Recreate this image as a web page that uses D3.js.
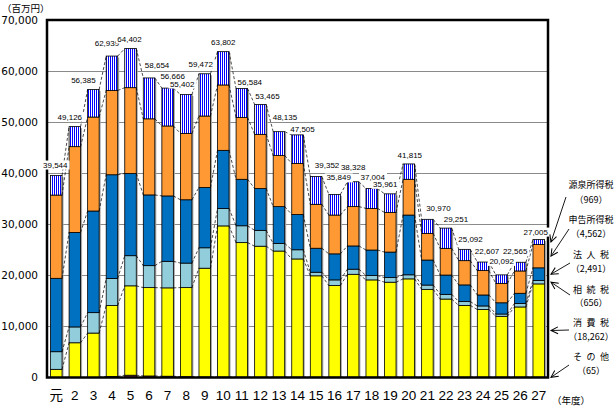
<!DOCTYPE html>
<html><head><meta charset="utf-8">
<script src="https://cdn.jsdelivr.net/npm/d3@7"></script>
<style>body{margin:0;background:#fff}svg{display:block}</style>
</head><body>
<svg id="c" width="615" height="408"></svg>
<script>
// ---- data (百万円) ----
const years = ["元","2","3","4","5","6","7","8","9","10","11","12","13","14","15","16","17","18","19","20","21","22","23","24","25","26","27"];
const sonota   = [0,0,0,200,450,300,250,150,100,80,60,60,60,60,60,60,60,60,60,60,60,60,60,60,60,60,65];
const shohi    = [1600,6800,8700,13900,17500,17300,17300,17450,21300,29600,26350,25650,24700,23150,19850,17950,20150,19050,18600,19250,17200,15300,14050,13250,11920,13750,18262];
const sozoku   = [3450,3100,4000,5300,5900,4300,5200,4800,4000,3400,3300,3100,1500,1800,700,1100,1000,850,900,800,840,920,750,700,450,700,656];
const hojin    = [14370,18500,19900,20300,16100,13850,12800,12400,11800,11400,9100,8200,7200,6900,4700,5100,4550,5000,5000,11700,4900,3780,3270,2150,2200,1980,2491];
const shinkoku = [16300,16800,18400,16500,16800,14900,13700,13000,14000,12800,12100,10600,10000,10000,8600,7600,7700,8150,7750,7000,5220,5230,4750,4770,3800,4370,4562];
const gensen   = [3824,3926,5385,6739,7652,8004,7416,7602,8272,6522,5674,5855,4675,5595,5442,4039,4868,3894,3651,3005,2750,3961,2212,1677,1662,1705,969];
const totals   = [39544,49126,56385,62939,64402,58654,56666,55402,59472,63802,56584,53465,48135,47505,39352,35849,38328,37004,35961,41815,30970,29251,25092,22607,20092,22565,27005];
const yTicks   = [0,10000,20000,30000,40000,50000,60000,70000];
const legendNames  = ["源泉所得税","申告所得税","法人税","相続税","消費税","その他"];
const legendValues = ["969","4,562","2,491","656","18,262","65"];
// label nudges (px) relative to bar centre / bar top
const labelDx = [-1,-5,-10,-5,-1,8,5,-4,-4,0,8,7,6,5,11,4,0,1,-5,1,11,10,6,4,0,-5,-3];
const labelDy = [11,10,10,13,10,13,12,11,10,10,7,8,15,6,12,17,15,12,10,9,11,9,10,11,14,11,8];

const keys = ["sonota","shohi","sozoku","hojin","shinkoku","gensen"];
const seriesArrays = {sonota, shohi, sozoku, hojin, shinkoku, gensen};
const colors = {sonota:"#993366", shohi:"#FFFF00", sozoku:"#92CDDC", hojin:"#0070C0", shinkoku:"#FF9933", gensen:"url(#stripes)"};

const table = years.map((yr,i)=>{const r={year:yr}; keys.forEach(k=>r[k]=seriesArrays[k][i]); return r;});

const svg = d3.select("#c");
const defs = svg.append("defs");
const pat = defs.append("pattern").attr("id","stripes").attr("patternUnits","userSpaceOnUse")
  .attr("width",2).attr("height",4);
pat.append("rect").attr("width",2).attr("height",4).attr("fill","#fff");
pat.append("rect").attr("width",1).attr("height",4).attr("fill","#0000FF");
const mk = defs.append("marker").attr("id","arr").attr("markerUnits","userSpaceOnUse")
  .attr("viewBox","-1 -5 10 10").attr("refX",7).attr("refY",0)
  .attr("markerWidth",10).attr("markerHeight",10).attr("orient","auto");
mk.append("path").attr("d","M0,-3.5L7,0L0,3.5").attr("fill","none").attr("stroke","#000").attr("stroke-width",1);

const L=47, R=548, T=20, B=377.5;
const x = d3.scaleBand().domain(years).range([L,R]).paddingInner(0.38).paddingOuter(0.19);
const y = d3.scaleLinear().domain([0,70000]).range([B,T]);
const bw = x.bandwidth();

// gridlines
svg.append("g").selectAll("line").data(yTicks.filter(t=>t>0&&t<70000)).join("line")
  .attr("x1",L).attr("x2",R).attr("y1",d=>Math.round(y(d))+0.5).attr("y2",d=>Math.round(y(d))+0.5)
  .attr("stroke","#8a8a8a").attr("stroke-width",1);

const stacked = d3.stack().keys(keys)(table);

// shadows
svg.append("g").selectAll("rect").data(table).join("rect")
  .attr("x",d=>x(d.year)+1.5).attr("y",(d,i)=>y(totals[i])+1.5)
  .attr("width",bw).attr("height",(d,i)=>B-y(totals[i])-1.5).attr("fill","#a6a6a6");

// bars
stacked.forEach(s=>{
  svg.append("g").selectAll("rect").data(s).join("rect")
    .attr("x",d=>x(d.data.year)).attr("y",d=>y(d[1]))
    .attr("width",bw).attr("height",d=>Math.max(0,y(d[0])-y(d[1])))
    .attr("fill",colors[s.key]).attr("stroke","#000").attr("stroke-width",0.8);
});

// series lines
stacked.forEach(s=>{
  const segs = s.slice(0,-1).map((d,i)=>[d, s[i+1]]);
  svg.append("g").selectAll("line").data(segs).join("line")
    .attr("x1",d=>x(d[0].data.year)+bw).attr("y1",d=>y(d[0][1]))
    .attr("x2",d=>x(d[1].data.year)).attr("y2",d=>y(d[1][1]))
    .attr("stroke","#000").attr("stroke-width",0.7).attr("stroke-dasharray","3,2");
});

// frame
svg.append("rect").attr("x",L).attr("y",T).attr("width",R-L).attr("height",B-T)
  .attr("fill","none").attr("stroke","#000").attr("stroke-width",2.5);

// y axis labels
const ya = svg.append("g").attr("transform",`translate(${L},0)`)
  .call(d3.axisLeft(y).tickValues(yTicks).tickSize(0).tickPadding(9).tickFormat(d3.format(",")));
ya.select(".domain").remove();
ya.selectAll("text").attr("font-family","'DejaVu Sans',sans-serif").attr("font-size","10.5px").attr("fill","#000");

// x axis labels
const xa = svg.append("g").attr("transform",`translate(0,${B})`)
  .call(d3.axisBottom(x).tickSize(0).tickPadding(13));
xa.select(".domain").remove();
xa.selectAll("text").attr("font-family","'Liberation Sans','Noto Sans CJK JP',sans-serif").attr("font-size","13.5px").attr("fill","#000");

// value labels
const lg = svg.append("g");
totals.forEach((t,i)=>{
  const g = lg.append("g");
  const tx = g.append("text").attr("x",x(years[i])+bw/2+labelDx[i]).attr("y",y(t)-labelDy[i]+3)
    .attr("text-anchor","middle").attr("font-family","'Liberation Sans',sans-serif").attr("font-size","8px")
    .text(d3.format(",")(t));
  const bb = tx.node().getBBox();
  g.insert("rect","text").attr("x",bb.x-1.5).attr("y",bb.y).attr("width",bb.width+3).attr("height",bb.height).attr("fill","#fff");
});

// unit labels
svg.append("text").attr("x",2).attr("y",12).attr("font-family","'Noto Sans CJK JP',sans-serif").attr("font-size","9.5px").text("（百万円）");
svg.append("text").attr("x",571).attr("y",404).attr("text-anchor","middle").attr("font-family","'Noto Sans CJK JP',sans-serif").attr("font-size","9.5px").text("（年度）");

// legend with arrows
const r27 = stacked.map(s=>s[s.length-1]);
const order = ["gensen","shinkoku","hojin","sozoku","shohi","sonota"];
const nameY = [184.5,220,255,289.5,323,356.5];
const valY = [199.3,234,269,303,337,370.5];
const starts = [[566,197],[569,229],[570,263],[570,295],[569,330],[569,365]];
const tipX = x("27")+bw+6.5;
const leg = svg.append("g").attr("font-family","'Noto Sans CJK JP',sans-serif").attr("font-size","9px");
order.forEach((k,i)=>{
  const seg = r27[keys.indexOf(k)];
  const name = legendNames[i];
  const sp = name.length<=3 ? 4.5 : 0;
  leg.append("text").attr("x",591+sp/2).attr("y",nameY[i]+3.3).attr("text-anchor","middle")
    .attr("letter-spacing",sp).text(name);
  leg.append("text").attr("x",591).attr("y",valY[i]+3.3).attr("text-anchor","middle").text("（"+legendValues[i]+"）");
  leg.append("line").attr("x1",starts[i][0]).attr("y1",starts[i][1])
    .attr("x2",tipX).attr("y2",(y(seg[0])+y(seg[1]))/2)
    .attr("stroke","#000").attr("stroke-width",0.9).attr("marker-end","url(#arr)");
});
</script>
</body></html>
